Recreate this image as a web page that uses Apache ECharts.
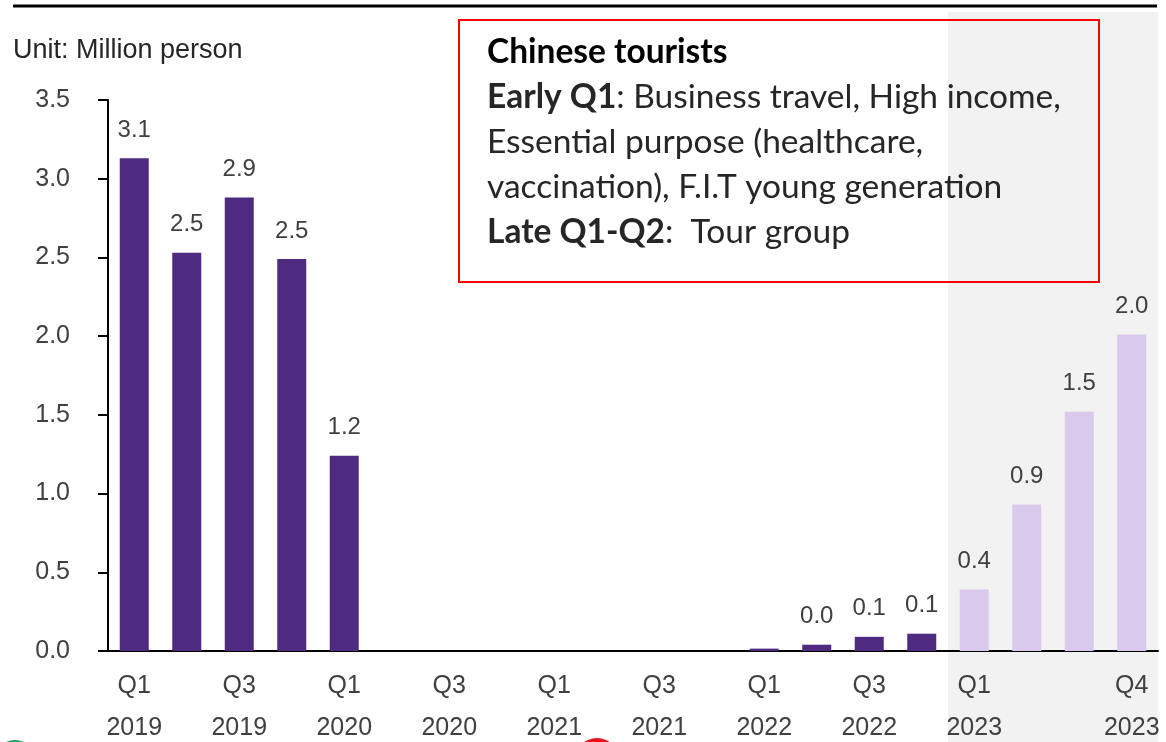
<!DOCTYPE html>
<html>
<head>
<meta charset="utf-8">
<script src="https://cdn.jsdelivr.net/npm/echarts@6/dist/echarts.min.js"></script>
<style>
  html, body { margin: 0; padding: 0; background: #fff; overflow: hidden; }
  #chart { width: 1166px; height: 742px; }
</style>
</head>
<body>
<div id="chart"></div>
<script>
// quarters Q1 2019 .. Q4 2023
const quarters = ['Q1 2019', 'Q2 2019', 'Q3 2019', 'Q4 2019',
  'Q1 2020', 'Q2 2020', 'Q3 2020', 'Q4 2020',
  'Q1 2021', 'Q2 2021', 'Q3 2021', 'Q4 2021',
  'Q1 2022', 'Q2 2022', 'Q3 2022', 'Q4 2022',
  'Q1 2023', 'Q2 2023', 'Q3 2023', 'Q4 2023']
const tickLabels = ['Q1\n2019', '', 'Q3\n2019', '',
  'Q1\n2020', '', 'Q3\n2020', '',
  'Q1\n2021', '', 'Q3\n2021', '',
  'Q1\n2022', '', 'Q3\n2022', '',
  'Q1\n2023', '', '', 'Q4\n2023']
// million persons
const visitors = [3.13, 2.53, 2.88, 2.49,
  1.24, 0, 0, 0,
  0, 0, 0, 0,
  0.015, 0.04, 0.09, 0.11,
  0.39, 0.93, 1.52, 2.01]
const forecastFrom = 16 // 2023 bars in light colour
const yTicks = [0, 3.5, 0.5] // min, max, interval

const DARK = '#4e2a80'
const LIGHT = '#d9c9ec'
const TEXT = '#404040'

const chart = echarts.init(document.getElementById('chart'))

const barData = visitors.map((v, i) => ({
  value: v,
  itemStyle: { color: i >= forecastFrom ? LIGHT : DARK },
  label: { show: v >= 0.03 }
}))

chart.setOption({
  animation: false,
  textStyle: { fontFamily: 'Liberation Sans, Arial, sans-serif' },
  grid: { left: 108, right: 8, top: 100, height: 551, containLabel: false, outerBoundsMode: 'none' },
  xAxis: {
    type: 'category',
    data: quarters,
    axisLine: { lineStyle: { color: '#000', width: 2 } },
    axisTick: { show: false },
    axisLabel: {
      interval: 0,
      margin: 14,
      fontSize: 25,
      lineHeight: 42,
      color: TEXT,
      formatter: (v, i) => tickLabels[i]
    }
  },
  yAxis: {
    type: 'value',
    min: yTicks[0],
    max: yTicks[1],
    interval: yTicks[2],
    splitLine: { show: false },
    axisLine: { show: true, lineStyle: { color: '#000', width: 2 } },
    axisTick: { show: true, length: 10, lineStyle: { color: '#000', width: 2 } },
    axisLabel: {
      margin: 38,
      fontSize: 25,
      color: TEXT,
      formatter: v => v.toFixed(1)
    }
  },
  series: [{
    type: 'bar',
    data: barData,
    barWidth: 29,
    label: {
      position: 'top',
      distance: 16,
      fontSize: 24,
      color: TEXT,
      formatter: p => p.value.toFixed(1)
    }
  }]
})

// shaded 2023 band, from the category axis scale
const bandW = chart.convertToPixel({ xAxisIndex: 0 }, quarters[1]) - chart.convertToPixel({ xAxisIndex: 0 }, quarters[0])
const bandLeft = chart.convertToPixel({ xAxisIndex: 0 }, quarters[forecastFrom]) - bandW / 2
const bandRight = chart.convertToPixel({ xAxisIndex: 0 }, quarters[quarters.length - 1]) + bandW / 2

const boxFont = 'Lato, sans-serif'

chart.setOption({
  graphic: [
    {
      type: 'rect', z: -10, silent: true,
      shape: { x: bandLeft, y: 12, width: bandRight - bandLeft, height: 742 - 12 },
      style: { fill: '#f2f2f2' }
    },
    {
      type: 'line', z: 10,
      shape: { x1: 13, y1: 6, x2: 1157, y2: 6 },
      style: { stroke: '#000', lineWidth: 3 }
    },
    {
      type: 'text', left: 13, top: 37,
      style: { text: 'Unit: Million person', fontSize: 27, fill: '#262626', fontFamily: 'Liberation Sans, Arial, sans-serif' }
    },
    {
      type: 'rect', z: 10,
      shape: { x: 459, y: 20, width: 640, height: 262 },
      style: { fill: null, stroke: '#ff0000', lineWidth: 2 }
    },
    {
      type: 'text', z: 11, left: 487, top: 30,
      style: {
        text: '{h|Chinese tourists}\n{b|Early Q1}{n|: Business travel, High income,}\n{n|Essential purpose (healthcare,}\n{n|vaccination), F.I.T young generation}\n{b|Late Q1-Q2}{n|:  Tour group}',
        fill: '#262626',
        fontFamily: boxFont,
        fontSize: 33.5,
        lineHeight: 45,
        rich: {
          h: { fontWeight: 'bold', fontSize: 33.5, lineHeight: 45, fontFamily: boxFont, fill: '#000' },
          b: { fontWeight: 'bold', fontSize: 33.5, lineHeight: 45, fontFamily: boxFont, fill: '#262626' },
          n: { fontSize: 33.5, lineHeight: 45, fontFamily: boxFont, fill: '#262626' }
        }
      }
    },
    {
      type: 'circle', silent: true,
      shape: { cx: 15, cy: 762, r: 22 },
      style: { fill: '#1fa05a' }
    },
    {
      type: 'circle', silent: true,
      shape: { cx: 597, cy: 760, r: 22 },
      style: { fill: '#e8121b' }
    }
  ]
})
</script>
</body>
</html>
